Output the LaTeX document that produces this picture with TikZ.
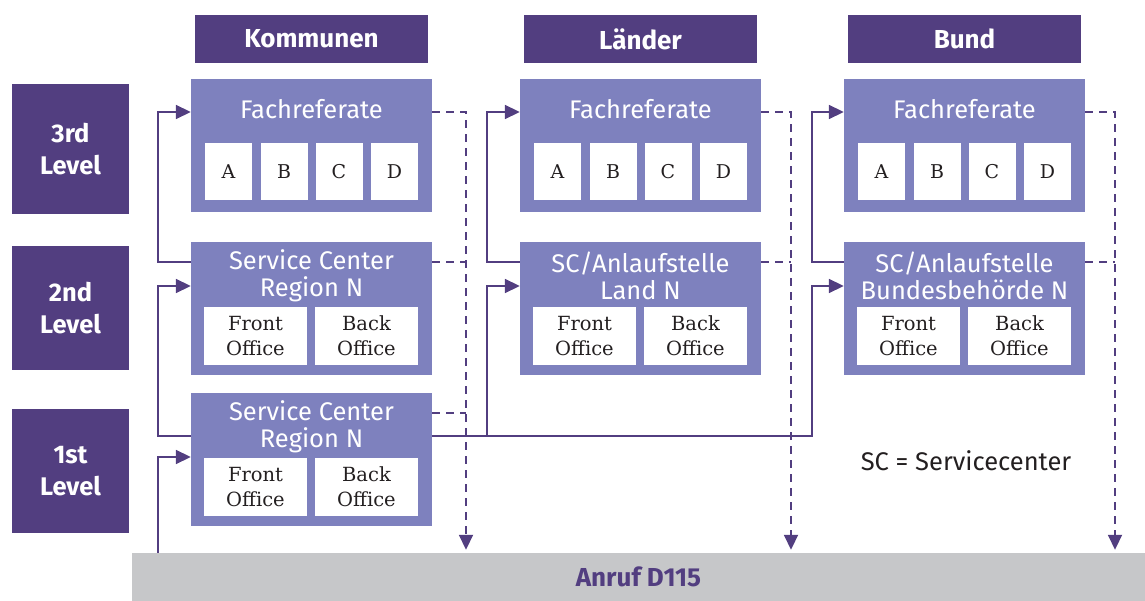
\documentclass[tikz,border=0pt]{standalone}
\usepackage{fontspec}
\setsansfont{Fira Sans}
\newfontfamily\zellfont{DejaVu Serif}
\usepackage{tikz}
\usepackage{xcolor}
\usetikzlibrary{positioning, arrows.meta}
\usetikzlibrary{calc}
\definecolor{dunkellila}{RGB}{82,62,128}
\definecolor{hellila}{RGB}{126,129,190}
\definecolor{hellgrau}{RGB}{198,199,201}
\definecolor{schrift}{RGB}{35,31,32}
\tikzstyle{hdr} = [rectangle,fill=dunkellila,text=white,minimum width=233pt,minimum height=48pt,font=\sffamily\bfseries\fontsize{26}{27}\selectfont]
\tikzstyle{lvl} = [rectangle,fill=dunkellila,text=white,minimum width=117pt,align=center,font=\sffamily\bfseries\fontsize{25.5}{32}\selectfont]
\tikzstyle{blk} = [rectangle,fill=hellila,minimum width=241pt,minimum height=133pt,inner sep=0pt]
\tikzstyle{ttl} = [text=white,align=center,inner sep=0pt,font=\sffamily\fontsize{25.5}{27}\selectfont]
\tikzstyle{cell} = [rectangle,fill=white,text=schrift,minimum width=47pt,minimum height=57pt,inner sep=0pt,font=\zellfont\fontsize{19}{24}\selectfont]
\tikzstyle{sub} = [rectangle,fill=white,text=schrift,minimum width=103pt,minimum height=58pt,inner sep=0pt,align=center,font=\zellfont\fontsize{19.5}{25}\selectfont]
\tikzstyle{bar} = [rectangle,fill=hellgrau,text=dunkellila,minimum width=1013pt,minimum height=48pt,font=\sffamily\bfseries\fontsize{26}{27}\selectfont]
\tikzstyle{hinweis} = [text=schrift,font=\sffamily\fontsize{25.5}{27}\selectfont]
\tikzstyle{ln} = [draw=dunkellila,line width=1.8pt]
\tikzstyle{conn} = [ln,-{Triangle[length=15pt,width=14pt]}]
\tikzstyle{dln} = [ln,dash pattern=on 8pt off 6pt]
\tikzstyle{dconn} = [conn,dash pattern=on 8pt off 6pt,shorten >=3pt]

\begin{document}
\begin{tikzpicture}[x=1pt,y=-1pt]
  \useasboundingbox (0,0) rectangle (1145,601);
  % Spalten
  \foreach \nm/\bx/\hd in {K/311.5/Kommunen, L/640.5/Länder, B/964.5/Bund}{
    \node[hdr] (h\nm) at (\bx,39) {\hd};
    \node[blk] (f\nm) at (\bx,145.5) {};
    \node[ttl] (tf\nm) at (\bx,109) {Fachreferate};
    \node[cell] (a\nm) at (\bx-83,171.5) {A};
    \node[cell] (b\nm) at (\bx-27.5,171.5) {B};
    \node[cell] (c\nm) at (\bx+27.5,171.5) {C};
    \node[cell] (d\nm) at (\bx+83,171.5) {D};
    \node[blk] (s\nm) at (\bx,308.5) {};
    \node[sub] (fo\nm) at (\bx-56,336) {Front\\Office};
    \node[sub] (bo\nm) at (\bx+55,336) {Back\\Office};
  }
  \node[ttl] (tsK) at (311.5,276) {Service Center\\Region N};
  \node[ttl] (tsL) at (640.5,276) {SC/Anlaufstelle\\Land N};
  \node[ttl] (tsB) at (964.5,276) {SC/Anlaufstelle\\Bundesbehörde N};
  \node[blk] (s1) at (311.5,459.5) {};
  \node[ttl] (ts1) at (311.5,427) {Service Center\\Region N};
  \node[sub] (fo1) at (255.5,487) {Front\\Office};
  \node[sub] (bo1) at (366.5,487) {Back\\Office};
  % Level
  \node[lvl,minimum height=130pt] (l3) at (70.5,149) {3rd\\Level};
  \node[lvl,minimum height=124pt] (l2) at (70.5,308) {2nd\\Level};
  \node[lvl,minimum height=124pt] (l1) at (70.5,471) {1st\\Level};
  \node[bar] (anruf) at (638.5,577) {Anruf D115};
  \node[hinweis] (sc) at (966,461) {SC = Servicecenter};
  % Verbindungen
  \coordinate (vK) at (158,0); \coordinate (vL) at (487,0); \coordinate (vB) at (812,0);
  \coordinate (wK) at (466,0); \coordinate (wL) at (791,0); \coordinate (wB) at (1115,0);
  \draw[conn] (anruf.north -| vK) |- ([yshift=2.5pt]s1.west);
  \draw[conn] ([yshift=23.5pt]s1.west) coordinate (o1) -- (o1 -| vK) |- ([yshift=22.5pt]sK.west);
  \draw[conn] ([yshift=46.5pt]sK.west) coordinate (o2) -- (o2 -| vK) |- ([yshift=33.5pt]fK.west);
  \draw[conn] ([yshift=23.5pt]s1.east) coordinate (o3) -- (o3 -| vB) |- ([yshift=22.5pt]sB.west);
  \draw[conn] (o3 -| vL) |- ([yshift=22.5pt]sL.west);
  \draw[conn] ([yshift=46.5pt]sL.west) coordinate (o4) -- (o4 -| vL) |- ([yshift=33.5pt]fL.west);
  \draw[conn] ([yshift=46.5pt]sB.west) coordinate (o5) -- (o5 -| vB) |- ([yshift=33.5pt]fB.west);
  \draw[dconn] ([yshift=33.5pt]fK.east) -| (anruf.north -| wK);
  \draw[dconn] ([yshift=33.5pt]fL.east) -| (anruf.north -| wL);
  \draw[dconn] ([yshift=33.5pt]fB.east) -| (anruf.north -| wB);
  \draw[dln] ([yshift=46.5pt]sK.east) coordinate (d1) -- (d1 -| wK);
  \draw[dln] ([yshift=46.5pt]s1.east) coordinate (d2) -- (d2 -| wK);
  \draw[dln] ([yshift=46.5pt]sL.east) coordinate (d3) -- (d3 -| wL);
  \draw[dln] ([yshift=46.5pt]sB.east) coordinate (d4) -- (d4 -| wB);
\end{tikzpicture}
\end{document}
